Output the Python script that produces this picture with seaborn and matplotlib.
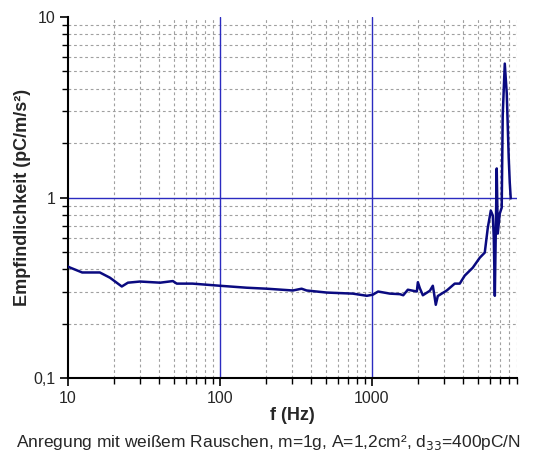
import numpy as np
import pandas as pd
import seaborn as sns
import matplotlib.pyplot as plt
from matplotlib.ticker import LogLocator, FixedFormatter, NullFormatter, FixedLocator

# frequency (Hz) and sensitivity (pC/m/s^2)
freq = [10, 10.3, 12.4, 16.2, 18.9, 22.6, 24.8, 29.8, 40.4, 49, 52, 66, 100,
        150, 204, 302, 345, 372, 505, 750, 927, 1015, 1100, 1315, 1528, 1610,
        1726, 1978, 2009, 2070, 2167, 2410, 2520, 2560, 2636, 2717, 3113,
        3513, 3790, 4090, 4616, 5139, 5538, 5800, 6070, 6256, 6350, 6450,
        6640, 6745, 6950, 7160, 7270, 7500, 7730, 7960, 8090, 8210]
sens = [0.415, 0.41, 0.385, 0.385, 0.36, 0.322, 0.338, 0.343, 0.338, 0.345,
        0.334, 0.334, 0.325, 0.317, 0.313, 0.306, 0.313, 0.306, 0.298, 0.294,
        0.286, 0.290, 0.302, 0.294, 0.292, 0.288, 0.309, 0.302, 0.34, 0.315,
        0.288, 0.305, 0.325, 0.30, 0.255, 0.285, 0.306, 0.334, 0.334, 0.37,
        0.409, 0.465, 0.496, 0.682, 0.847, 0.795, 0.60, 0.286, 1.45, 0.632,
        0.815, 0.88, 2.85, 5.52, 3.77, 1.67, 1.21, 0.99]

x_ticks = [10, 100, 1000]
x_labels = ["10", "100", "1000"]
y_ticks = [0.1, 1, 10]
y_labels = ["0,1", "1", "10"]

df = pd.DataFrame({"f": freq, "s": sens})

sns.set_style("ticks")
plt.rcParams["font.family"] = ["Liberation Sans", "DejaVu Sans"]

fig = plt.figure(figsize=(5.44, 4.59), dpi=100)
ax = fig.add_axes([0.125, 0.176, 0.825, 0.787])

ax.set_xscale("log")
ax.set_yscale("log")
ax.set_xlim(10, 9000)
ax.set_ylim(0.1, 10)

# grid: dashed grey minor lines, solid blue decade lines
ax.grid(which="minor", color="#a0a0a0", linestyle=(0, (2.5, 2.5)), linewidth=0.8)
ax.grid(which="major", visible=False)
for v in x_ticks[1:]:
    ax.axvline(v, color="#2b2bc0", linewidth=1.0, zorder=1)
ax.axhline(1, color="#2b2bc0", linewidth=1.0, zorder=1)

sns.lineplot(data=df, x="f", y="s", ax=ax, color="#0a0a80", linewidth=1.8,
             estimator=None, sort=False, zorder=3)

ax.xaxis.set_major_locator(FixedLocator(x_ticks))
ax.xaxis.set_major_formatter(FixedFormatter(x_labels))
ax.xaxis.set_minor_locator(LogLocator(base=10, subs=np.arange(2, 10), numticks=20))
ax.xaxis.set_minor_formatter(NullFormatter())
ax.yaxis.set_major_locator(FixedLocator(y_ticks))
ax.yaxis.set_major_formatter(FixedFormatter(y_labels))
ax.yaxis.set_minor_locator(LogLocator(base=10, subs=np.arange(2, 10), numticks=20))
ax.yaxis.set_minor_formatter(NullFormatter())

ax.tick_params(which="major", length=6, width=1.2, labelsize=11.5, direction="out",
               color="black", pad=3)
ax.tick_params(which="minor", length=4, width=1.0, direction="out", color="black")

for side in ["top", "right"]:
    ax.spines[side].set_visible(False)
for side in ["left", "bottom"]:
    ax.spines[side].set_color("black")
    ax.spines[side].set_linewidth(1.5)

ax.set_xlabel("f (Hz)", fontsize=13, fontweight="bold", labelpad=1)
ax.set_ylabel("Empfindlichkeit (pC/m/s²)", fontsize=13, fontweight="bold", labelpad=2)

fig.text(0.493, 0.035, "Anregung mit weißem Rauschen, m=1g, A=1,2cm², d$_{33}$=400pC/N",
         ha="center", va="center", fontsize=12.5)

fig.savefig("out.png", dpi=100)
